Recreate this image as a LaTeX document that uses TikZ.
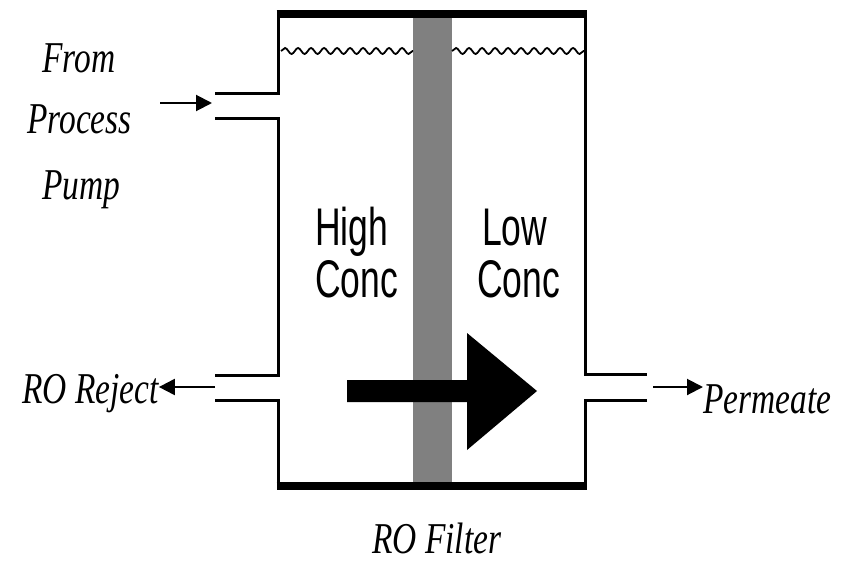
\documentclass[tikz,border=0pt]{standalone}
\usepackage{fontspec}
\setmainfont{Liberation Serif}
\newfontfamily\etiqsans{Liberation Sans}
\usetikzlibrary{arrows.meta, positioning, decorations.pathmorphing}

\newcommand{\etiq}[1]{\scalebox{0.76}[1]{\fontsize{44}{44}\selectfont\itshape #1}}
\newcommand{\conc}[1]{\scalebox{0.67}[1]{\fontsize{53}{53}\selectfont\etiqsans #1}}

\begin{document}
\begin{tikzpicture}[
    x=1pt, y=-1pt,
    pared/.style={draw, line width=3pt},
    tapa/.style={draw, line width=8pt},
    flujo/.style={draw, line width=2pt, -{Triangle[length=16pt, width=16pt]}},
    membrana/.style={fill=black!50},
    nivel/.style={draw, line width=1.8pt,
                  decorate, decoration={snake, segment length=13pt, amplitude=3pt}},
    texto/.style={inner sep=0pt, anchor=base west}
  ]
  \useasboundingbox (0,0) rectangle (842,562);

  % --- Membrana ---
  \fill[membrana] (413,16) rectangle (452,484);

  % --- Nivel del agua ---
  \draw[nivel] (281,51) -- (413,51);
  \draw[nivel] (452,51) -- (584,51);

  % --- Paredes del tanque ---
  \draw[tapa] (276.5,14) -- (586.5,14);
  \draw[tapa] (276.5,486) -- (586.5,486);
  \draw[pared] (278,10) -- (278,93) -- (215,93);
  \draw[pared] (215,118) -- (278,118) -- (278,375) -- (215,375);
  \draw[pared] (215,400) -- (278,400) -- (278,490);
  \draw[pared] (585,10) -- (585,374) -- (647,374);
  \draw[pared] (647,400) -- (585,400) -- (585,490);

  % --- Flecha grande ---
  \fill (347,380) -- (467,380) -- (467,333) -- (537,391)
        -- (467,450) -- (467,402) -- (347,402) -- cycle;

  % --- Textos ---
  \node[texto] (from) at (42,72) {\etiq{From}};
  \node[texto] (process) at (27,133) {\etiq{Process}};
  \node[texto] (pump) at (42,199) {\etiq{Pump}};
  \node[texto] (reject) at (22,403) {\etiq{RO Reject}};
  \node[texto] (permeate) at (703,413) {\etiq{Permeate}};
  \node[texto] (filtro) at (372,553) {\etiq{RO Filter}};

  \node[texto] (high) at (315,245) {\conc{High}};
  \node[texto] (concA) at (315,297) {\conc{Conc}};
  \node[texto] (low) at (482,245) {\conc{Low}};
  \node[texto] (concB) at (477,297) {\conc{Conc}};

  % --- Flujos ---
  \coordinate (entra) at (160,103);
  \coordinate (tuboin) at (212,103);
  \coordinate (tuborej) at (215,387);
  \coordinate (tubope) at (653,387);
  \draw[flujo] (entra) -- (tuboin);
  \draw[flujo] (tuborej) -- (reject.east |- tuborej);
  \draw[flujo] (tubope) -- (permeate.west |- tubope);
\end{tikzpicture}
\end{document}
